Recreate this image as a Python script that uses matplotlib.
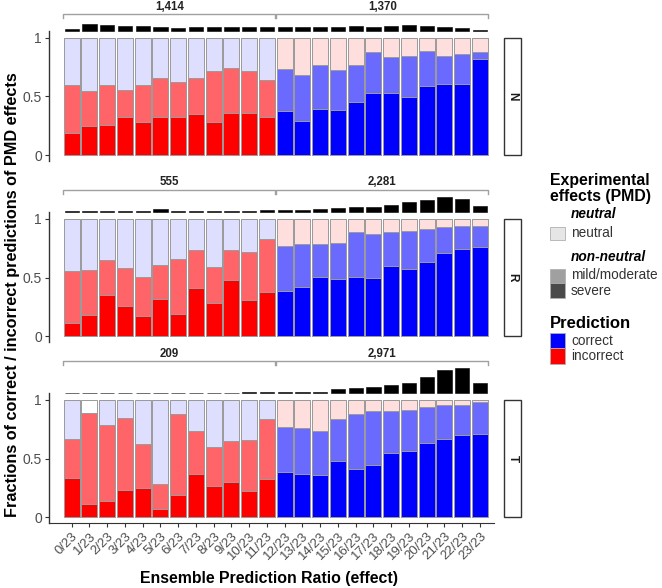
import numpy as np
import matplotlib.pyplot as plt
from matplotlib.patches import Rectangle

plt.rcParams['font.family'] = ['Liberation Sans', 'DejaVu Sans']

# x categories: ensemble prediction ratio
ratios = [f'{i}/23' for i in range(24)]
n_neutral_pred = 12  # first 12 ratios predicted neutral (red = incorrect)

# fraction of severe effects and of all non-neutral effects (severe + mild) per ratio
N_severe = [0.185, 0.247, 0.26, 0.327, 0.279, 0.327, 0.327, 0.347, 0.284, 0.361, 0.355, 0.327,
            0.378, 0.292, 0.392, 0.381, 0.452, 0.528, 0.531, 0.497, 0.588, 0.605, 0.608, 0.821]
N_nonneutral = [0.60, 0.55, 0.594, 0.554, 0.60, 0.66, 0.625, 0.654, 0.719, 0.744, 0.716, 0.637,
                0.736, 0.685, 0.767, 0.727, 0.767, 0.881, 0.833, 0.844, 0.889, 0.844, 0.864, 0.881]
R_severe = [0.113, 0.181, 0.351, 0.261, 0.173, 0.314, 0.193, 0.408, 0.283, 0.482, 0.306, 0.377,
            0.388, 0.422, 0.507, 0.49, 0.504, 0.493, 0.598, 0.575, 0.629, 0.711, 0.742, 0.762]
R_nonneutral = [0.555, 0.567, 0.652, 0.581, 0.501, 0.609, 0.66, 0.731, 0.586, 0.731, 0.714, 0.824,
                0.771, 0.782, 0.788, 0.796, 0.887, 0.87, 0.884, 0.895, 0.909, 0.929, 0.938, 0.935]
T_severe = [0.335, 0.111, 0.142, 0.233, 0.253, 0.074, 0.19, 0.369, 0.27, 0.301, 0.222, 0.324,
            0.384, 0.372, 0.358, 0.483, 0.412, 0.443, 0.545, 0.568, 0.631, 0.67, 0.702, 0.713]
T_nonneutral = [0.668, 0.892, 0.787, 0.849, 0.628, 0.287, 0.881, 0.739, 0.602, 0.653, 0.659, 0.841,
                0.773, 0.764, 0.733, 0.835, 0.878, 0.901, 0.901, 0.915, 0.935, 0.957, 0.96, 0.986]
# unlabelled remainder (drawn white) instead of neutral
T_unlabelled = [0, 0.108, 0, 0, 0, 0, 0, 0, 0, 0, 0, 0,
                0, 0, 0, 0, 0, 0, 0, 0, 0, 0, 0, 0]

# number of variants per ratio
N_counts = [61, 184, 161, 138, 138, 122, 84, 107, 107, 107, 107, 98,
            115, 115, 107, 107, 130, 115, 138, 161, 138, 122, 92, 30]
R_counts = [23, 38, 46, 46, 46, 77, 46, 46, 46, 46, 46, 49,
            59, 59, 84, 109, 134, 151, 201, 268, 319, 394, 344, 159]
T_counts = [15, 9, 14, 13, 16, 14, 17, 16, 18, 21, 30, 26,
            43, 43, 43, 104, 130, 174, 217, 278, 417, 600, 652, 270]

panels = ['N', 'R', 'T']
severe = {'N': N_severe, 'R': R_severe, 'T': T_severe}
nonneutral = {'N': N_nonneutral, 'R': R_nonneutral, 'T': T_nonneutral}
unlabelled = {'N': [0] * 24, 'R': [0] * 24, 'T': T_unlabelled}
counts = {'N': N_counts, 'R': R_counts, 'T': T_counts}

# colours
red_sev, red_mild, red_neu = '#FF0000', '#FF6468', '#DEDEFF'
blue_sev, blue_mild, blue_neu = '#0000FF', '#6A6AFF', '#FFDEDE'
edge = '#9A9A9A'
grey_txt = '#4D4D4D'

W, H = 662, 588
fig = plt.figure(figsize=(W / 100, H / 100), dpi=100)

ax_left, ax_right = 49, 494
ax_h = 129.6
tops = [31.2, 212.3, 393.4]
hist_base = 1.055
hist_scale = 0.213 / max(max(c) for c in counts.values())

x = np.arange(24)
for k, (p, top) in enumerate(zip(panels, tops)):
    ax = fig.add_axes([ax_left / W, 1 - (top + ax_h) / H, (ax_right - ax_left) / W, ax_h / H])
    sev = np.array(severe[p])
    nn = np.array(nonneutral[p])
    un = np.array(unlabelled[p])
    is_red = x < n_neutral_pred
    c_sev = np.where(is_red, red_sev, blue_sev)
    c_mild = np.where(is_red, red_mild, blue_mild)
    c_neu = np.where(is_red, red_neu, blue_neu)
    ax.bar(x, sev, width=0.9, color=c_sev, edgecolor=edge, linewidth=0.7)
    ax.bar(x, nn - sev, bottom=sev, width=0.9, color=c_mild, edgecolor=edge, linewidth=0.7)
    ax.bar(x, 1 - nn - un, bottom=nn, width=0.9, color=c_neu, edgecolor=edge, linewidth=0.7)
    ax.bar(x, un, bottom=1 - un, width=0.9, color='white', edgecolor=edge, linewidth=0.7)

    # count histogram above the panel
    cnt = np.array(counts[p])
    ax.bar(x, cnt * hist_scale, bottom=hist_base, width=0.8, color='black',
           edgecolor='black', linewidth=0.4, clip_on=False)

    # brackets with group totals
    br_y = max(1.2, hist_base + cnt.max() * hist_scale + 0.06)
    groups = [(0, n_neutral_pred), (n_neutral_pred, 24)]
    for g0, g1 in groups:
        xa, xb = g0 - 0.47, g1 - 1 + 0.47
        ax.plot([xa, xa, xb, xb], [br_y - 0.035, br_y, br_y, br_y - 0.035],
                color='#A0A0A0', lw=1.0, clip_on=False)
        ax.text((xa + xb) / 2, br_y + 0.065, f'{cnt[g0:g1].sum():,}', ha='center',
                va='center', fontsize=8.3, fontweight='bold', color='#222222')

    ax.set_xlim(-1.28, 23.79)
    ax.set_ylim(-0.048, 1.055)
    ax.set_yticks([0, 0.5, 1])
    ax.set_yticklabels(['0', '0.5', '1'], fontsize=10, color=grey_txt)
    ax.tick_params(axis='y', length=3, color='#333333', pad=2)
    for s in ['top', 'right']:
        ax.spines[s].set_visible(False)
    ax.spines['left'].set_color('#333333')
    ax.spines['left'].set_linewidth(1.0)
    if k < 2:
        ax.spines['bottom'].set_visible(False)
        ax.set_xticks([])
    else:
        ax.spines['bottom'].set_color('#333333')
        ax.set_xticks(x)
        ax.set_xticklabels(ratios, rotation=45, ha='right', va='top',
                           rotation_mode='anchor', fontsize=9.5, color=grey_txt)
        ax.tick_params(axis='x', length=3, color='#333333', pad=2)

    # facet strip
    tr = ax.get_yaxis_transform()
    sx = (504 - ax_left) / (ax_right - ax_left)
    sw = 17 / (ax_right - ax_left)
    ax.add_patch(Rectangle((sx, 0), sw, 1, transform=tr, facecolor='white',
                           edgecolor='#333333', linewidth=1.0, clip_on=False))
    ax.text(sx + sw / 2, 0.5, p, transform=tr, rotation=-90, ha='center', va='center',
            fontsize=8.5, fontweight='bold', color='#1A1A1A')

fig.text(13 / W, 1 - 295 / H, 'Fractions of correct / incorrect predictions of PMD effects',
         rotation=90, ha='center', va='center', fontsize=11.7, fontweight='bold')
fig.text(269 / W, 1 - 578 / H, 'Ensemble Prediction Ratio (effect)',
         ha='center', va='center', fontsize=11.4, fontweight='bold')


# legend
def key(y0, y1, color):
    fig.add_artist(Rectangle((550 / W, 1 - y1 / H), 15 / W, (y1 - y0) / H,
                             transform=fig.transFigure, facecolor=color,
                             edgecolor='#B0B0B0', linewidth=0.6))


def ltext(px, py, s, **kw):
    fig.text(px / W, 1 - py / H, s, va='center', ha='left', **kw)


ltext(550, 180, 'Experimental', fontsize=11.4, fontweight='bold')
ltext(550, 197, 'effects (PMD)', fontsize=11.4, fontweight='bold')
ltext(571, 214, 'neutral', fontsize=9.8, fontweight='bold', style='italic')
key(227, 240, '#E6E6E6')
ltext(571, 233, 'neutral', fontsize=9.8, color='#333333')
ltext(571, 257, 'non-neutral', fontsize=9.8, fontweight='bold', style='italic')
key(269, 283, '#A0A0A0')
key(283, 298, '#4A4A4A')
ltext(571, 275, 'mild/moderate', fontsize=9.8, color='#333333')
ltext(571, 291, 'severe', fontsize=9.8, color='#333333')
ltext(550, 323, 'Prediction', fontsize=12, fontweight='bold')
key(333, 348, '#0000FF')
key(348, 364, '#FF0000')
ltext(571, 341, 'correct', fontsize=9.8, color='#333333')
ltext(571, 356, 'incorrect', fontsize=9.8, color='#333333')

fig.savefig('out.png', dpi=100)
